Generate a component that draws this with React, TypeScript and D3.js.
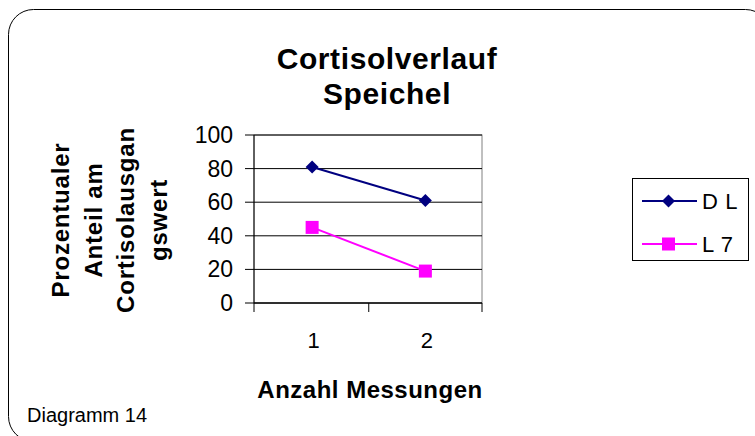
import React from "react";
import * as d3 from "d3";

const categories = ["1", "2"];
const seriesDL = [81, 61];
const seriesL7 = [45, 19];
const yTicks = [0, 20, 40, 60, 80, 100];
const seriesNames = ["D L", "L 7"];
const titleLines = ["Cortisolverlauf", "Speichel"];
const yTitleLines = ["Prozentualer", "Anteil am", "Cortisolausgan", "gswert"];
const xTitle = "Anzahl Messungen";
const footer = "Diagramm 14";

const FONT = "'Liberation Sans', Arial, sans-serif";

export default function App() {
  const W = 755, H = 436;
  const left = 254, right = 482, top = 135, bottom = 303;
  const x = d3.scaleBand<string>().domain(categories).range([255.5, right]).padding(0);
  const y = d3.scaleLinear().domain([0, 100]).range([bottom, top]);
  const cx = (c: string) => (x(c) as number) + x.bandwidth() / 2;

  const line = d3.line<number>().x((_, i) => cx(categories[i])).y((v) => y(v));
  const diamond = (px: number, py: number, r: number) =>
    `M${px},${py - r}L${px + r},${py}L${px},${py + r}L${px - r},${py}Z`;

  const colors = ["#000080", "#FF00FF"];
  const tickEdges = [left, ...categories.map((c) => (x(c) as number) + x.bandwidth())];

  return (
    <svg
      width={W}
      height={H}
      style={{ position: "absolute", left: 0, top: 0, display: "block", background: "#fff" }}
      fontFamily={FONT}
    >
      <rect x={8.5} y={9.5} width={762} height={432} rx={25} ry={25} fill="#fff" stroke="#000" strokeWidth={1} />

      {/* title */}
      {titleLines.map((t, i) => (
        <text key={t} x={387} y={69 + i * 35} textAnchor="middle" fontSize={30} fontWeight="bold" letterSpacing={0.6}>
          {t}
        </text>
      ))}

      {/* plot area */}
      <rect x={left} y={top} width={right - left} height={bottom - top} fill="#fff" stroke="#808080" strokeWidth={1} />
      {yTicks.map((t) => (
        <line key={"g" + t} x1={left} x2={right} y1={y(t)} y2={y(t)} stroke="#000" strokeWidth={1} />
      ))}
      {/* y axis */}
      <line x1={left} x2={left} y1={top} y2={bottom} stroke="#000" strokeWidth={1} />
      {yTicks.map((t) => (
        <g key={"yt" + t}>
          <line x1={left - 9} x2={left} y1={y(t)} y2={y(t)} stroke="#000" strokeWidth={1} />
          <text x={233} y={y(t) + 8} textAnchor="end" fontSize={23}>
            {t}
          </text>
        </g>
      ))}
      {/* x axis */}
      <line x1={left} x2={right} y1={bottom} y2={bottom} stroke="#000" strokeWidth={1} />
      {tickEdges.map((tx, i) => (
        <line key={"xt" + i} x1={tx} x2={tx} y1={bottom} y2={bottom + 9} stroke="#000" strokeWidth={1} />
      ))}
      {categories.map((c) => (
        <text key={"xl" + c} x={cx(c) + 1.5} y={348} textAnchor="middle" fontSize={22}>
          {c}
        </text>
      ))}

      {/* series */}
      <path d={line(seriesDL) || ""} fill="none" stroke={colors[0]} strokeWidth={2} />
      <path d={line(seriesL7) || ""} fill="none" stroke={colors[1]} strokeWidth={2} />
      {seriesDL.map((v, i) => (
        <path key={"d" + i} d={diamond(cx(categories[i]), y(v), 6.5)} fill={colors[0]} />
      ))}
      {seriesL7.map((v, i) => (
        <rect key={"s" + i} x={cx(categories[i]) - 6.5} y={y(v) - 6.5} width={13} height={13} fill={colors[1]} />
      ))}

      {/* y title */}
      <g transform="translate(0,220)">
        {yTitleLines.map((t, i) => (
          <text
            key={t}
            transform={`translate(${69 + i * 32.7},0) rotate(-90)`}
            textAnchor="middle"
            fontSize={24}
            fontWeight="bold"
            letterSpacing={0.8}
          >
            {t}
          </text>
        ))}
      </g>

      {/* x title */}
      <text x={370} y={398} textAnchor="middle" fontSize={24} fontWeight="bold" letterSpacing={0.5}>
        {xTitle}
      </text>

      {/* legend */}
      <rect x={632.5} y={178.5} width={116} height={82} fill="#fff" stroke="#000" strokeWidth={1} />
      {seriesNames.map((n, i) => {
        const ly = 201 + i * 43;
        return (
          <g key={n}>
            <line x1={642} x2={697} y1={ly} y2={ly} stroke={colors[i]} strokeWidth={2} />
            {i === 0 ? (
              <path d={diamond(668.5, ly, 6.5)} fill={colors[i]} />
            ) : (
              <rect x={662} y={ly - 6.5} width={13} height={13} fill={colors[i]} />
            )}
            <text x={702} y={ly + 7.5} fontSize={22} letterSpacing={0.6}>
              {n}
            </text>
          </g>
        );
      })}

      {/* footer */}
      <text x={27} y={422} fontSize={20}>
        {footer}
      </text>
    </svg>
  );
}
